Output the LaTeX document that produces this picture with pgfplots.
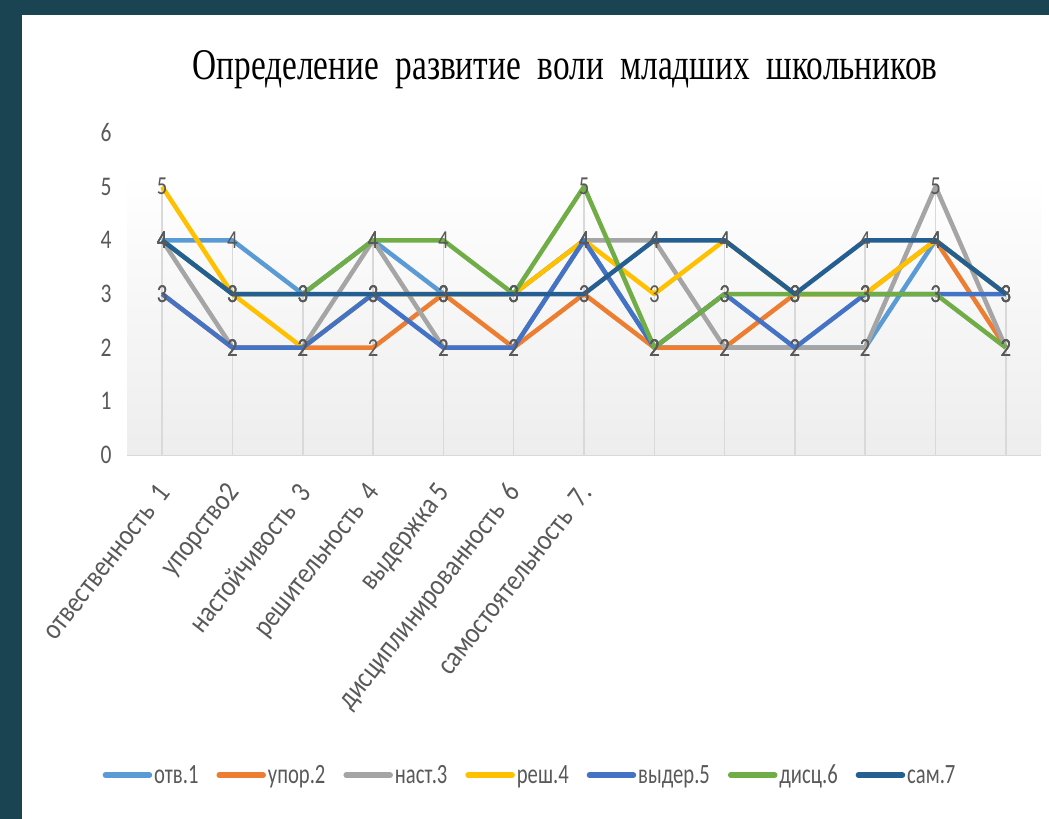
\documentclass[border=0pt]{standalone}
\usepackage{pgfplots}
\pgfplotsset{compat=1.18}
\usepackage{pgfplotstable}
\usepackage{fontspec}
\setmainfont{Carlito}[FakeStretch=0.8]
\newfontfamily\titlefont{Liberation Serif}[FakeStretch=0.76]
\newfontfamily\labfont{Carlito}[FakeStretch=0.85]
\newfontfamily\legfont{Carlito}[FakeStretch=0.74]
\definecolor{frame}{RGB}{27,68,82}
\definecolor{txt}{RGB}{89,89,89}
\definecolor{gridc}{RGB}{217,217,217}
\definecolor{cOtv}{RGB}{91,155,213}
\definecolor{cUpor}{RGB}{237,125,49}
\definecolor{cNast}{RGB}{165,165,165}
\definecolor{cResh}{RGB}{255,192,0}
\definecolor{cVyd}{RGB}{68,114,196}
\definecolor{cDisc}{RGB}{112,173,71}
\definecolor{cSam}{RGB}{37,94,145}
\pgfplotstableread{
x otv upor nast resh vyd disc sam mx
0 4 3 4 5 3 4 4 5
1 4 2 2 3 2 3 3 4
2 3 2 2 2 2 3 3 3
3 4 2 4 3 3 4 3 4
4 3 3 2 3 2 4 3 4
5 3 2 2 3 2 3 3 3
6 4 3 4 4 4 5 3 5
7 2 2 4 3 2 2 4 4
8 2 2 2 4 3 3 4 4
9 2 3 2 3 2 3 3 3
10 2 3 2 3 3 3 4 4
11 4 4 5 4 3 3 4 5
12 3 2 2 3 3 2 3 3
}\datatable
\begin{document}
\begin{tikzpicture}
\fill[frame] (0,0) rectangle (1049bp,819bp);
\fill[white] (22bp,0) rectangle (1049bp,804bp);
\node[anchor=base, text=black, font=\titlefont\fontsize{44}{50}\selectfont] at (565bp,739bp) {Определение\ \ развитие\ \ воли\ \ младших\ \ школьников};
\begin{axis}[
  at={(127bp,364bp)}, anchor=south west,
  scale only axis, width=914bp, height=322bp,
  xmin=-0.5, xmax=12.5, ymin=0, ymax=6,
  axis x line*=bottom, axis y line*=left,
  x axis line style={draw=gridc, line width=1.5bp, -},
  y axis line style={draw=none},
  major tick length=0,
  ytick={0,...,6},
  xtick={0,...,12},
  xticklabels={отвественность\ \ 1, упорство2, настойчивость\ \ 3, решительность\ \ 4, выдержка 5, дисциплинированность\ \ 6, самостоятельность\ \ 7., {}, {}, {}, {}, {}, {}},
  /pgf/number format/assume math mode=true,
  yticklabel style={anchor=east, xshift=-12bp, text=txt, font=\fontsize{27}{30}\selectfont},
  xticklabel style={yshift=-30bp, xshift=4bp, anchor=east, rotate=52, text=txt, font=\labfont\fontsize{29.5}{32}\selectfont},
  legend style={at={(0.441,-0.994)}, anchor=center, draw=none, fill=none,
    legend columns=7, font=\legfont\fontsize{28}{30}\selectfont, text=txt,
    /tikz/every even column/.append style={column sep=16bp},
    inner sep=0pt},
  legend image code/.code={\draw[#1, line width=5.5bp, line cap=round] (0bp,0bp) -- (44bp,0bp);},
  legend cell align=left,
  every axis plot/.append style={line width=4.5bp, line join=round, mark=none},
  clip=false,
]
\fill[top color=white, bottom color=black!7, draw=none] (axis cs:-0.5,0) rectangle (axis cs:12.5,5.27);
\addplot[ycomb, draw=gridc, line width=1.5bp, forget plot] table[x=x, y=mx] {\datatable};
\addplot[cOtv] table[x=x, y=otv] {\datatable};
\addlegendentry{отв.1}
\addplot[cUpor] table[x=x, y=upor] {\datatable};
\addlegendentry{упор.2}
\addplot[cNast] table[x=x, y=nast] {\datatable};
\addlegendentry{наст.3}
\addplot[cResh] table[x=x, y=resh] {\datatable};
\addlegendentry{реш.4}
\addplot[cVyd] table[x=x, y=vyd] {\datatable};
\addlegendentry{выдер.5}
\addplot[cDisc] table[x=x, y=disc] {\datatable};
\addlegendentry{дисц.6}
\addplot[cSam] table[x=x, y=sam] {\datatable};
\addlegendentry{сам.7}
\pgfplotsset{every node near coord/.style={anchor=center, text=txt, font=\fontsize{26}{28}\selectfont}}
\foreach \c in {otv,upor,nast,resh,vyd,disc,sam}{
  \addplot[draw=none, forget plot, nodes near coords, point meta=explicit symbolic] table[x=x, y=\c, meta=\c] {\datatable};
}
\end{axis}
\end{tikzpicture}
\end{document}
